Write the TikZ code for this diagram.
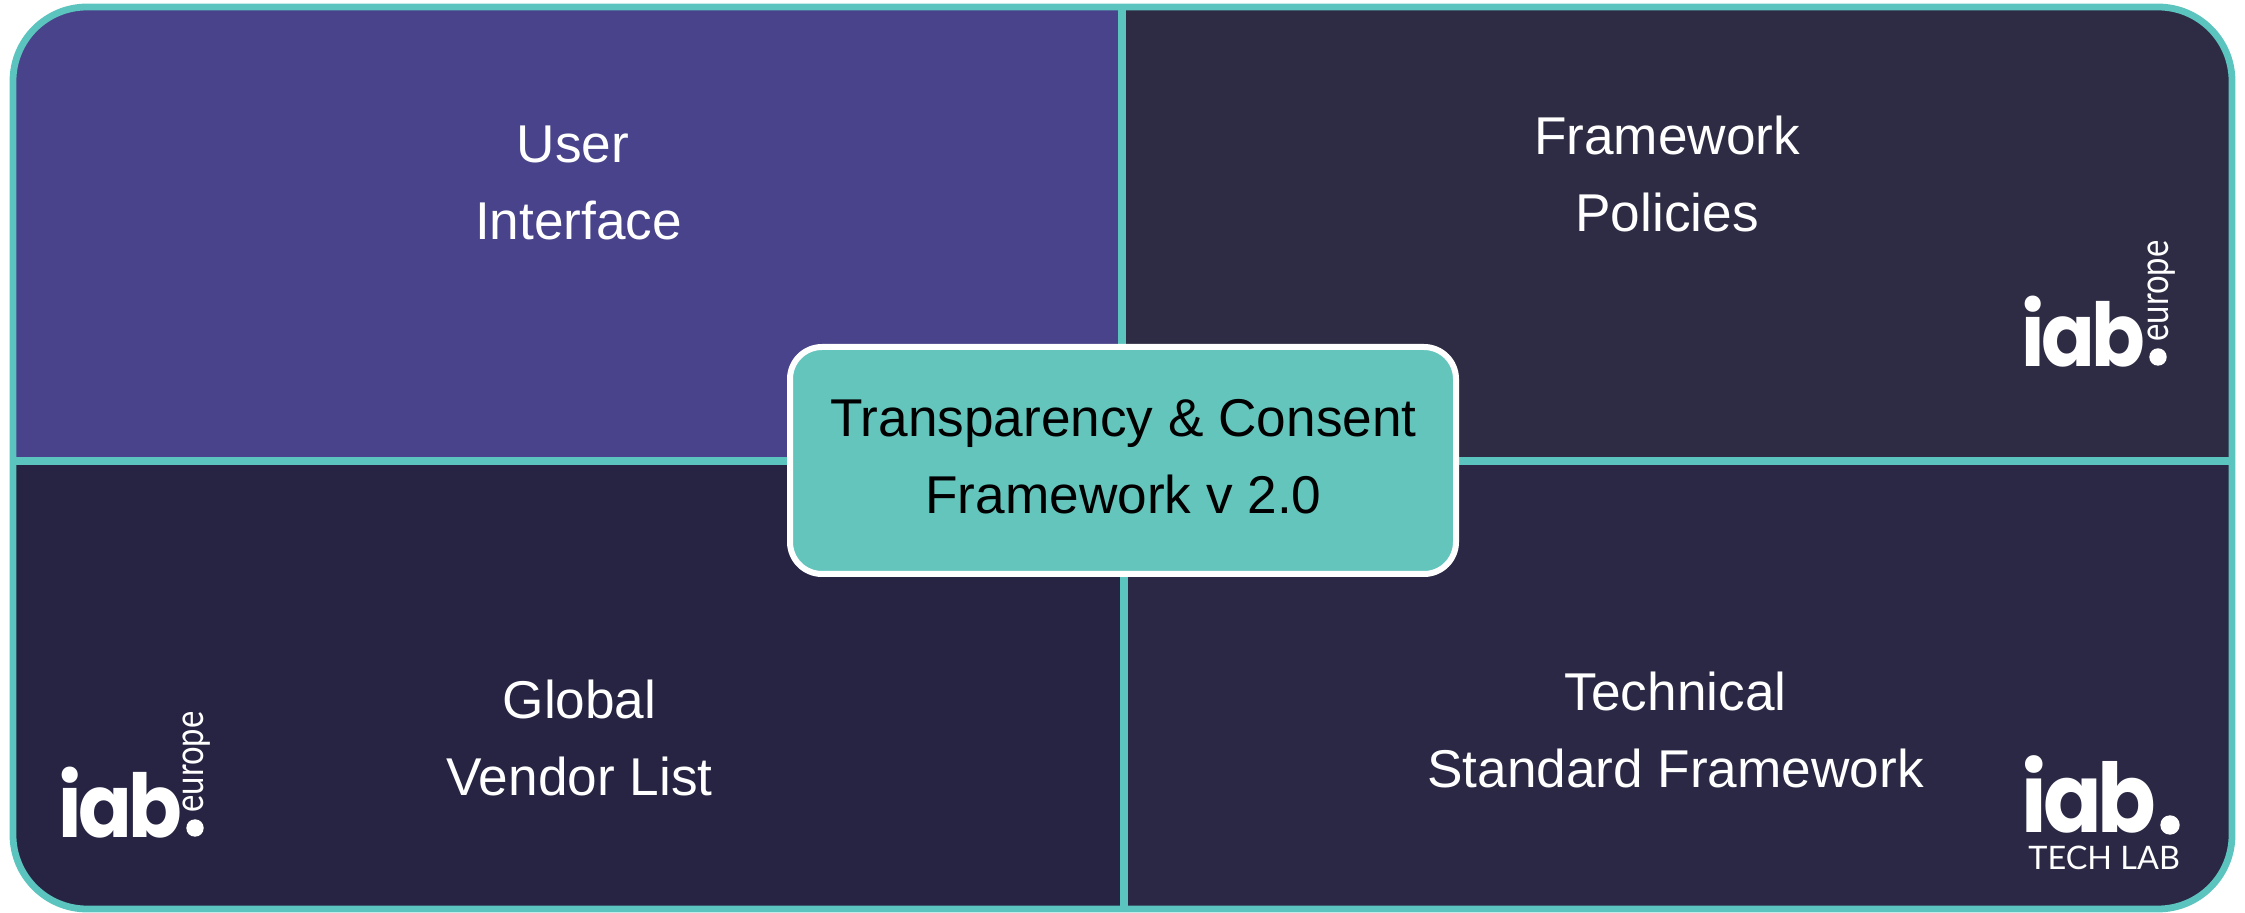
\documentclass[tikz,border=0pt]{standalone}
\usepackage{fontspec}
\setmainfont{Liberation Sans}
\newfontfamily\logobold{Poppins}
\newfontfamily\logolight{Lato}
\definecolor{teal1}{HTML}{5CC4BE}
\definecolor{boxfill}{HTML}{64C5BD}
\definecolor{panelblue}{HTML}{48438A}
\definecolor{panelTR}{HTML}{2E2C44}
\definecolor{panelBL}{HTML}{262442}
\definecolor{panelBR}{HTML}{2A2844}
\tikzset{
  label text/.style={text=white,font=\fontsize{26.6}{38.5}\selectfont,align=center,inner sep=0pt},
  grid line/.style={draw=teal1,line width=4pt},
  outer line/.style={draw=teal1,line width=3.4pt},
  iab mark/.style={text=white,font=\logobold\bfseries\fontsize{44}{44}\selectfont,inner sep=0pt,anchor=base west},
  europe mark/.style={text=white,font=\logolight\fontsize{20}{20}\selectfont,inner sep=0pt,rotate=90,anchor=base west},
  lab mark/.style={text=white,font=\logolight\fontsize{16.2}{16.2}\selectfont,inner sep=0pt,anchor=base west}
}
\newcommand{\iabtext}{i\kern-0.04em a\kern-0.05em b}
\begin{document}
\begin{tikzpicture}[x=0.5pt,y=-0.5pt]
\useasboundingbox (0,0) rectangle (2245,913);
\fill[white] (0,0) rectangle (2245,913);
\begin{scope}
  \clip[rounded corners=37pt] (13,7) rectangle (2232,909);
  \fill[panelblue] (0,0) rectangle (1122,461);
  \fill[panelTR] (1122,0) rectangle (2245,461);
  \fill[panelBL] (0,461) rectangle (1124,913);
  \fill[panelBR] (1124,461) rectangle (2245,913);
\end{scope}
\coordinate (tm) at (1122,7);
\coordinate (bm) at (1124,909);
\coordinate (lm) at (13,461);
\coordinate (rm) at (2232,461);
\draw[grid line] (tm) -- (1122,461);
\draw[grid line] (1124,461) -- (bm);
\draw[grid line] (lm) -- (rm);
\draw[outer line,rounded corners=37pt] (13,7) rectangle (2232,909);

\node[draw=white,fill=boxfill,line width=3pt,rounded corners=16pt,minimum width=333pt,minimum height=113.5pt,inner sep=0pt] (core) at (1123,460.5) {};
\node[text=black,font=\fontsize{26.6}{38.5}\selectfont,align=center,inner sep=0pt] (coretext) at (1123.5,457) {Transparency \& Consent\\Framework v 2.0};

\node[label text] (ui) at (578.5,182.5) {User\hspace*{5.7pt}\\Interface};
\node[label text] (fp) at (1667,174) {Framework\\Policies};
\node[label text] (gvl) at (579.5,738) {Global\\Vendor List};
\node[label text] (tsf) at (1675.5,730) {Technical\\Standard Framework};

\node[iab mark] (logoA) at (2021,367) {\scalebox{0.9}[1]{\iabtext}};
\fill[white] (2158,357) circle[radius=8.7];
\node[europe mark] (euA) at (2168,342) {\scalebox{0.82}[1]{europe}};
\node[iab mark] (logoB) at (58,838) {\scalebox{0.9}[1]{\iabtext}};
\fill[white] (195,828) circle[radius=8.7];
\node[europe mark] (euB) at (203,813) {\scalebox{0.82}[1]{europe}};
\node[iab mark,font=\logobold\bfseries\fontsize{48}{48}\selectfont] (logoC) at (2021,833) {\scalebox{0.9}[1]{\iabtext}};
\fill[white] (2170,825) circle[radius=9.7];
\node[lab mark] (labC) at (2028,870) {TECH LAB};
\end{tikzpicture}
\end{document}
